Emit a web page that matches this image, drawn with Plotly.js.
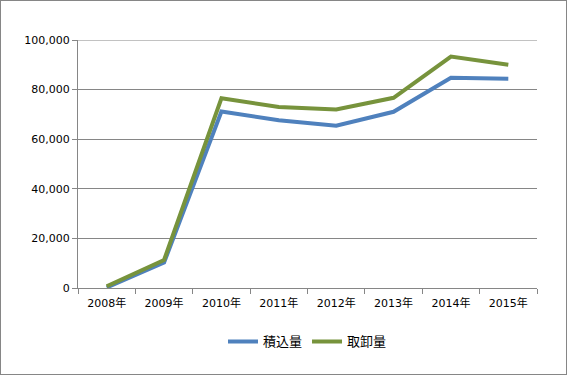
<!DOCTYPE html>
<html>
<head>
<meta charset="utf-8">
<script src="https://cdn.plot.ly/plotly-3.0.1.min.js"></script>
<style>
html,body{margin:0;padding:0;background:#fff;}
#wrap{position:relative;width:567px;height:375px;}
#chart{width:567px;height:375px;}
#frame{position:absolute;left:0;top:0;width:565px;height:373px;border:1px solid #868686;pointer-events:none;}
</style>
</head>
<body>
<div id="wrap"><div id="chart"></div><div id="frame"></div></div>
<script>
const categories = ["2008年","2009年","2010年","2011年","2012年","2013年","2014年","2015年"];
const loaded = [200, 10250, 71200, 67600, 65400, 71050, 84800, 84400];      // 積込量
const unloaded = [700, 11300, 76500, 73000, 72000, 76700, 93300, 90000];   // 取卸量
const seriesNames = ["積込量","取卸量"];
const yTicks = [0, 20000, 40000, 60000, 80000, 100000];

const fontFam = "'DejaVu Sans', 'Noto Sans CJK JP', sans-serif";

const traces = [
  {x: categories, y: loaded, name: seriesNames[0], type: "scatter", mode: "lines",
   line: {color: "#4F81BD", width: 4}},
  {x: categories, y: unloaded, name: seriesNames[1], type: "scatter", mode: "lines",
   line: {color: "#77933C", width: 4}}
];

const layout = {
  width: 567, height: 375,
  margin: {l: 78, r: 30, t: 40, b: 87},
  paper_bgcolor: "#fff", plot_bgcolor: "#fff",
  font: {family: fontFam, size: 11, color: "#000"},
  showlegend: true,
  legend: {orientation: "h", x: 0.5, xanchor: "center", y: -0.155, yanchor: "top",
           font: {family: "'Noto Sans CJK JP', sans-serif", size: 13, color: "#000"}, itemwidth: 30},
  xaxis: {
    type: "category", showgrid: false, showline: true, linecolor: "#868686", linewidth: 1,
    ticks: "outside", tickson: "boundaries", ticklen: 5, tickcolor: "#868686",
    ticklabelstandoff: 5,
    tickfont: {family: fontFam, size: 11, color: "#000"}, zeroline: false,
    range: [-0.5, 7.5]
  },
  yaxis: {
    range: [0, 100000], tickvals: yTicks, tickformat: ",d",
    showgrid: true, gridcolor: "#868686", gridwidth: 1,
    showline: true, linecolor: "#868686", linewidth: 1,
    ticks: "outside", ticklen: 5, tickcolor: "#868686",
    tickfont: {family: fontFam, size: 11, color: "#000"}, zeroline: false
  },
  shapes: [
    {type: "line", xref: "paper", yref: "y", x0: 0, x1: 1, y0: 100000, y1: 100000,
     line: {color: "#868686", width: 1}, layer: "below"}
  ]
};

Plotly.newPlot("chart", traces, layout, {displayModeBar: false, staticPlot: true});
</script>
</body>
</html>
